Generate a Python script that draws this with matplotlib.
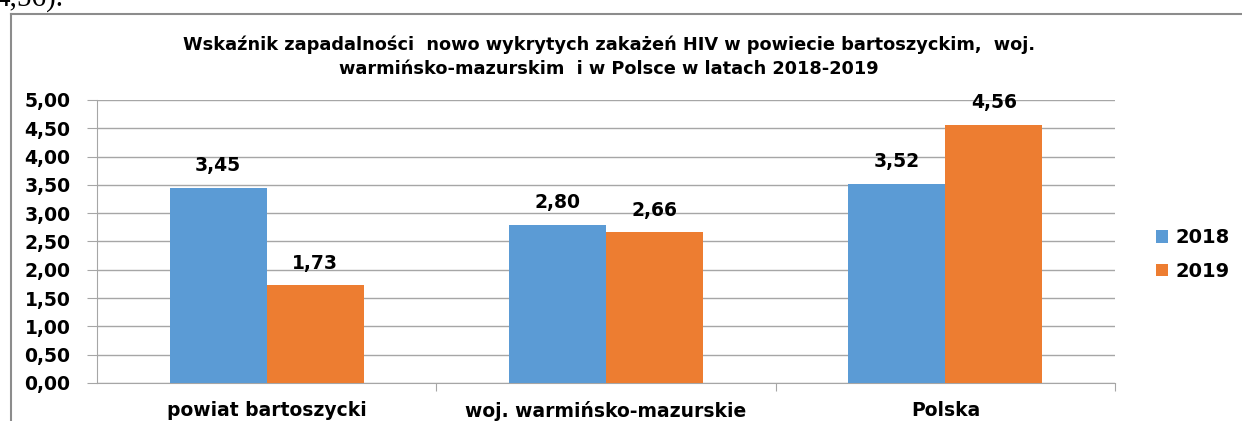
import numpy as np
import matplotlib.pyplot as plt
from matplotlib.lines import Line2D

# data
categories = ['powiat bartoszycki', 'woj. warmińsko-mazurskie', 'Polska']
years = ['2018', '2019']
values_2018 = [3.45, 2.80, 3.52]
values_2019 = [1.73, 2.66, 4.56]
colors = ['#5B9BD5', '#ED7D31']

plt.rcParams['font.family'] = ['DejaVu Sans']

fig = plt.figure(figsize=(12.42, 4.21), dpi=100)
ax = fig.add_axes([0.0781, 0.0903, 0.8197, 0.6722])

x = np.arange(len(categories))
w = 0.286
bars1 = ax.bar(x - w / 2, values_2018, w, color=colors[0], label=years[0], zorder=3)
bars2 = ax.bar(x + w / 2, values_2019, w, color=colors[1], label=years[1], zorder=3)

def fmt(v):
    return f'{v:.2f}'.replace('.', ',')

for bars in (bars1, bars2):
    for b in bars:
        h = b.get_height()
        ax.text(b.get_x() + b.get_width() / 2, h + 0.22, fmt(h),
                ha='center', va='bottom', fontsize=13.5, fontweight='bold')

ax.set_xlim(-0.5, 2.5)
ax.set_ylim(0, 5)
ax.set_yticks(np.arange(0, 5.01, 0.5))
ax.set_yticklabels([fmt(v) for v in np.arange(0, 5.01, 0.5)],
                   fontsize=13.5, fontweight='bold')
ax.yaxis.grid(True, color='#A6A6A6', linewidth=1, zorder=0)
ax.tick_params(axis='y', length=7, color='#A6A6A6', pad=12)

# category labels and separator ticks
ax.set_xticks([0.5, 1.5, 2.5])
ax.set_xticklabels([])
ax.tick_params(axis='x', length=6, color='#A6A6A6', direction='out')
for i, c in enumerate(categories):
    ax.text(i, -0.32, c, ha='center', va='top', fontsize=13.5, fontweight='bold')

for s in ['top', 'right']:
    ax.spines[s].set_visible(False)
ax.spines['left'].set_color('#A6A6A6')
ax.spines['bottom'].set_color('#A6A6A6')

fig.text(0.490, 0.866,
         'Wskaźnik zapadalności  nowo wykrytych zakażeń HIV w powiecie bartoszyckim,  woj.\n'
         'warmińsko-mazurskim  i w Polsce w latach 2018-2019',
         ha='center', va='center', fontsize=12.8, fontweight='bold', linespacing=1.45)

leg = fig.legend(handles=[bars1, bars2], labels=years, loc='center left',
                 bbox_to_anchor=(0.917, 0.395), frameon=False, fontsize=14,
                 handlelength=0.6, handleheight=0.6, labelspacing=0.75,
                 handletextpad=0.4)
for t in leg.get_texts():
    t.set_fontweight('bold')

# frame of the embedded chart
fig.add_artist(Line2D([0.0089, 1.0], [0.967, 0.967], color='#8C8C8C', linewidth=1.5))
fig.add_artist(Line2D([0.0089, 0.0089], [0.0, 0.967], color='#8C8C8C', linewidth=1.5))

# text from the page above, cut off at the top edge as in the scan
fig.text(-0.004, 0.986, '4,56).', ha='left', va='baseline', fontsize=21,
         family='Liberation Serif')

fig.savefig('out.png', dpi=100)
